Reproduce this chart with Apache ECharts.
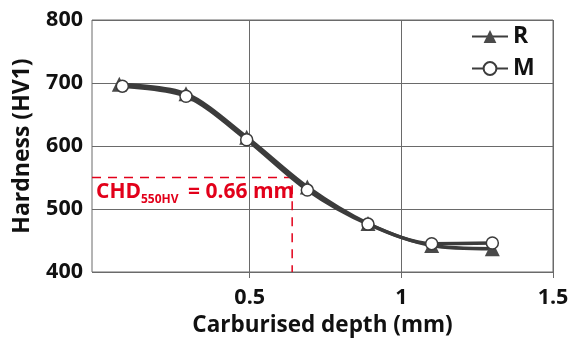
<!DOCTYPE html>
<html>
<head>
<meta charset="utf-8">
<script src="https://cdn.jsdelivr.net/npm/echarts@6/dist/echarts.min.js"></script>
<style>
  html, body { margin: 0; padding: 0; background: #fff; }
  #chart { width: 571px; height: 340px; }
</style>
</head>
<body>
<div id="chart"></div>
<script>
// depth (mm) / hardness (HV1)
const depthR = [0.07, 0.29, 0.49, 0.69, 0.89, 1.1, 1.3];
const hardR = [698, 683, 614, 535, 477, 442, 437];
const depthM = [0.08, 0.29, 0.49, 0.69, 0.89, 1.1, 1.3];
const hardM = [695, 679, 610, 530, 476, 445, 446];
// case hardening depth marker
const chdDepth = [-0.02, 0.64, 0.64];
const chdHard = [550, 550, 400];
const xTicks = [0.5, 1, 1.5];

const FONT = 'Open Sans';
const LINE = '#3c3c3c';
const RED = '#e2001a';

const zip = (a, b) => a.map((v, i) => [v, b[i]]);

const chart = echarts.init(document.getElementById('chart'));

chart.setOption({
    animation: false,
    grid: {
        left: 92, right: 18, top: 20, bottom: 68,
        outerBoundsMode: 'none',
        show: true, borderColor: '#6a6a6a', borderWidth: 1
    },
    legend: {
        data: ['R', 'M'],
        orient: 'vertical',
        left: 466, top: 20,
        itemWidth: 36, itemHeight: 16, itemGap: 9,
        textStyle: { fontFamily: FONT, fontWeight: 'bold', fontSize: 23, color: '#111' }
    },
    xAxis: {
        type: 'value',
        min: -0.02, max: 1.5,
        name: 'Carburised depth (mm)',
        nameLocation: 'middle',
        nameGap: 42,
        nameTextStyle: { fontFamily: FONT, fontWeight: 'bold', fontSize: 22.5, color: '#111' },
        axisLine: { show: false },
        axisTick: { show: true, customValues: xTicks, length: 6, lineStyle: { color: '#6a6a6a' } },
        axisLabel: {
            customValues: xTicks, margin: 15,
            fontFamily: FONT, fontWeight: 'bold', fontSize: 21.5, color: '#111',
            formatter: v => String(v)
        },
        splitLine: { show: true, lineStyle: { color: '#6a6a6a', width: 1 } }
    },
    yAxis: {
        type: 'value',
        min: 400, max: 800, interval: 100,
        name: 'Hardness (HV1)',
        nameLocation: 'middle',
        nameGap: 58,
        nameTextStyle: { fontFamily: FONT, fontWeight: 'bold', fontSize: 23, color: '#111' },
        axisLine: { show: false },
        axisTick: { show: true, length: 6, lineStyle: { color: '#6a6a6a' } },
        axisLabel: { margin: 9, fontFamily: FONT, fontWeight: 'bold', fontSize: 21.5, color: '#111' },
        splitLine: { show: true, lineStyle: { color: '#6a6a6a', width: 1 } }
    },
    series: [
        {
            name: 'CHD',
            type: 'line',
            data: zip(chdDepth, chdHard),
            showSymbol: false,
            symbol: 'none',
            silent: true,
            z: 1,
            lineStyle: { color: RED, width: 1.5, type: [9, 7] }
        },
        {
            name: 'R',
            type: 'line',
            data: zip(depthR, hardR),
            smooth: 0.3,
            symbol: 'triangle',
            symbolSize: 15,
            z: 3,
            itemStyle: { color: '#4a4a4a' },
            lineStyle: { color: LINE, width: 3.5 }
        },
        {
            name: 'M',
            type: 'line',
            data: zip(depthM, hardM),
            smooth: 0.3,
            symbol: 'circle',
            symbolSize: 12,
            z: 4,
            itemStyle: { color: '#fff', borderColor: LINE, borderWidth: 1.5 },
            lineStyle: { color: LINE, width: 3.5 }
        }
    ],
    graphic: [{
        type: 'text',
        left: 96, top: 182,
        style: {
            text: '{a|CHD}{s|550HV}{a| = 0.66 mm}',
            rich: {
                a: { fontFamily: FONT, fontWeight: 'bold', fontSize: 21, fill: RED, verticalAlign: 'bottom', lineHeight: 25 },
                s: { fontFamily: FONT, fontWeight: 'bold', fontSize: 12, fill: RED, verticalAlign: 'bottom', lineHeight: 16, padding: [0, 4, -3, 0] }
            }
        }
    }]
});
</script>
</body>
</html>
